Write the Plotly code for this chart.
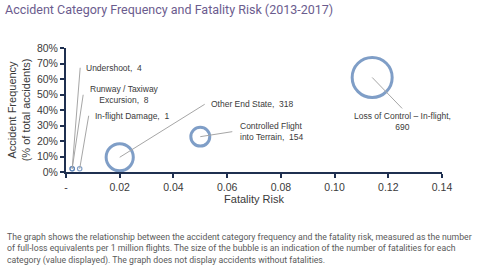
import plotly.graph_objects as go

categories = ["Undershoot", "Runway / Taxiway<br>Excursion", "In-flight Damage",
              "Other End State", "Controlled Flight<br>into Terrain",
              "Loss of Control – In-flight,<br>"]
fatality_risk = [0.0023, 0.0023, 0.0051, 0.0200, 0.0500, 0.1140]
frequency = [0.021, 0.021, 0.021, 0.095, 0.228, 0.610]
fatalities = [4, 8, 1, 318, 154, 690]
x_ticks = [0, 0.02, 0.04, 0.06, 0.08, 0.10, 0.12, 0.14]
x_ticktext = ["-", "0.02", "0.04", "0.06", "0.08", "0.10", "0.12", "0.14"]
y_ticks = [0, 0.1, 0.2, 0.3, 0.4, 0.5, 0.6, 0.7, 0.8]
y_ticktext = ["0%", "10%", "20%", "30%", "40%", "50%", "60%", "70%", "80%"]

W, H = 480, 265
ML, MR, MT, MB = 66, 38, 48, 93
PW = W - ML - MR
PH = H - MT - MB

BUBBLE = "#4a76b0"
AXIS = "#1f3050"
TXT = "#3a3a3a"
LEAD = "#a6a6a6"

fig = go.Figure()
fig.add_trace(go.Scatter(
    x=fatality_risk, y=frequency, mode="markers",
    marker=dict(size=fatalities, sizemode="area", sizeref=0.8625, sizemin=2.2,
                color="rgba(255,255,255,0)",
                line=dict(color=BUBBLE, width=[1.2, 1.2, 1.2, 3, 3, 3])),
    cliponaxis=False, hoverinfo="skip", showlegend=False,
))

# label placement (pixel offsets of leader tails from each point)
label_cfg = [
    dict(ax=8, ay=-101, xanchor="left", yanchor="middle", align="left", pad=5),
    dict(ax=11, ay=-74, xanchor="left", yanchor="middle", align="center", pad=6),
    dict(ax=9, ay=-53, xanchor="left", yanchor="middle", align="left", pad=5),
    dict(ax=85, ay=-53, xanchor="left", yanchor="middle", align="left", pad=5),
    dict(ax=32, ay=-5, xanchor="left", yanchor="middle", align="left", pad=7),
    dict(ax=30, ay=31, xanchor="center", yanchor="top", align="center", pad=2),
]
for cat, xv, yv, fv, cfg in zip(categories, fatality_risk, frequency, fatalities, label_cfg):
    if cat.endswith("<br>"):
        txt = f"{cat}{fv}"
    else:
        txt = f"{cat},  {fv}"
    fig.add_annotation(
        x=xv, y=yv, xref="x", yref="y", text=txt,
        showarrow=True, arrowhead=0, arrowwidth=1, arrowcolor=LEAD,
        ax=cfg["ax"], ay=cfg["ay"], axref="pixel", ayref="pixel",
        xanchor=cfg["xanchor"], yanchor=cfg["yanchor"], align=cfg["align"],
        borderpad=cfg["pad"], standoff=0,
        font=dict(family="Liberation Sans, Arial, sans-serif", size=8.5, color=TXT),
    )

caption = ("The graph shows the relationship between the accident category frequency and the fatality risk, measured as the number<br>"
           "of full-loss equivalents per 1 million flights. The size of the bubble is an indication of the number of fatalities for each<br>"
           "category (value displayed). The graph does not display accidents without fatalities.")
fig.add_annotation(
    x=(5 - ML) / PW, y=((H - MB) - 230) / PH, xref="paper", yref="paper",
    text=caption, showarrow=False, xanchor="left", yanchor="top", align="left",
    font=dict(family="Roboto, sans-serif", size=8.7, color="#5a5a5a"),
)

fig.update_layout(
    width=W, height=H,
    margin=dict(l=ML, r=MR, t=MT, b=MB, pad=0),
    paper_bgcolor="white", plot_bgcolor="white",
    title=dict(text="Accident Category Frequency and Fatality Risk (2013-2017)",
               x=5 / W, xref="container", xanchor="left",
               y=1 - 10 / H, yref="container", yanchor="middle",
               font=dict(family="Roboto, sans-serif", size=12.5, color="#6b5c8e")),
    xaxis=dict(range=[0, 0.14], tickvals=x_ticks, ticktext=x_ticktext,
               showgrid=False, zeroline=False, showline=True, linecolor=AXIS, linewidth=2,
               ticks="outside", ticklen=4, tickcolor=AXIS, tickwidth=1.5,
               tickfont=dict(family="Liberation Sans, Arial, sans-serif", size=10.5, color=TXT),
               title=dict(text="Fatality Risk", standoff=4,
                          font=dict(family="Liberation Sans, Arial, sans-serif", size=11, color=TXT))),
    yaxis=dict(range=[0, 0.8], tickvals=y_ticks, ticktext=y_ticktext,
               showgrid=False, zeroline=False, showline=True, linecolor=AXIS, linewidth=2,
               ticks="outside", ticklen=4, tickcolor=AXIS, tickwidth=1.5,
               tickfont=dict(family="Liberation Sans, Arial, sans-serif", size=10.5, color=TXT),
               title=dict(text="Accident Frequency<br>(% of total accidents)", standoff=4,
                          font=dict(family="Liberation Sans, Arial, sans-serif", size=11, color=TXT))),
)

fig.write_html("out.html", config={"displayModeBar": False},
               post_script="document.body.style.margin='0';")
